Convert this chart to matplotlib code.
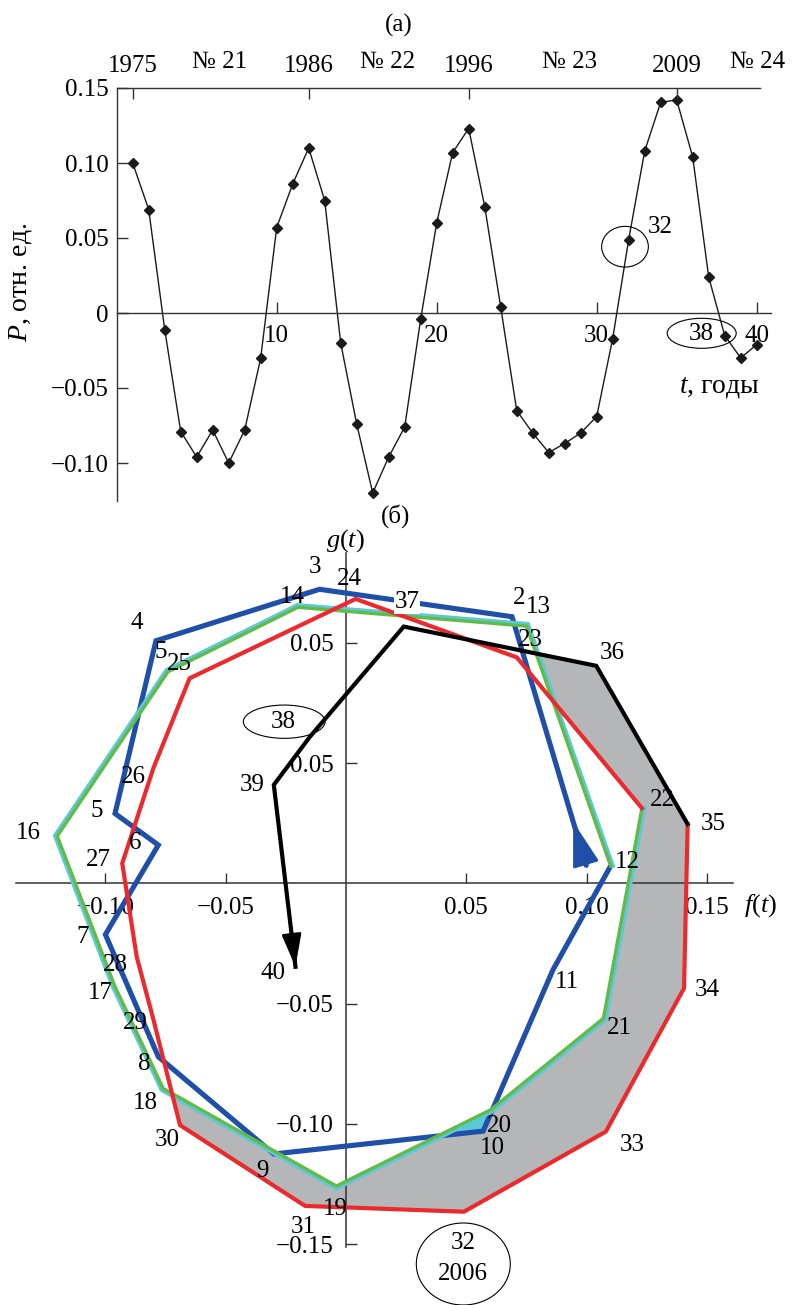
import numpy as np
import matplotlib
matplotlib.use("Agg")
import matplotlib.pyplot as plt
from matplotlib import transforms as mtransforms
from matplotlib.patches import Ellipse, Polygon

plt.rcParams['font.family'] = ['Liberation Serif', 'DejaVu Serif']
plt.rcParams['mathtext.fontset'] = 'custom'
plt.rcParams['mathtext.rm'] = 'Liberation Serif'
plt.rcParams['mathtext.it'] = 'Liberation Serif:italic'
plt.rcParams['axes.unicode_minus'] = True

# ---------------- data ----------------
t = np.arange(1, 41)
# P(t) of panel (a); it is also f(t) of panel (b)
P = np.array([0.100, 0.069, -0.011, -0.079, -0.096, -0.078, -0.100, -0.078, -0.030, 0.057,
              0.086, 0.110, 0.075, -0.020, -0.074, -0.120, -0.096, -0.076, -0.004, 0.060,
              0.107, 0.123, 0.071, 0.004, -0.065, -0.080, -0.093, -0.087, -0.080, -0.069,
              -0.017, 0.049, 0.108, 0.1405, 0.142, 0.104, 0.024, -0.015, -0.030, -0.021])
g = np.array([0.0069, 0.1108, 0.1222, 0.1008, 0.0290, 0.0159, -0.0213, -0.0721, -0.1125, -0.1030,
              -0.0360, 0.0072, 0.1069, 0.1147, 0.0879, 0.0196, -0.0429, -0.0852, -0.1258, -0.0942,
              -0.0561, 0.0312, 0.0939, 0.1182, 0.0852, 0.0480, 0.0083, -0.0305, -0.0568, -0.1005,
              -0.1341, -0.1365, -0.1032, -0.0436, 0.0246, 0.0904, 0.1067, 0.0609, 0.0409, -0.0347])

year_t = [1, 12, 22, 35]
year_labels = ['1975', '1986', '1996', '2009']
cycle_t = [6.45, 16.9, 28.3, 40.05]
cycle_labels = ['№ 21', '№ 22', '№ 23', '№ 24']
a_xticks = [10, 20, 30, 40]
a_yticks = [-0.10, -0.05, 0.0, 0.05, 0.10, 0.15]
a_yticklabels = ['−0.10', '−0.05', '0', '0.05', '0.10', '0.15']
b_fticks = [-0.10, -0.05, 0.05, 0.10, 0.15]
b_fticklabels = ['−0.10', '−0.05', '0.05', '0.10', '0.15']
b_gticks = [-0.15, -0.10, -0.05, 0.05, 0.10]
b_gticklabels = ['−0.15', '−0.10', '−0.05', '0.05', '0.05']

# trajectory pieces (first and last year index t)
blue_rng = (1, 12)
green_rng = (12, 22)
red_rng = (22, 35)
black_rng = (35, 40)

# point number labels of panel (b): text, reference pixel x, y
point_labels = [
    ('2', 519, 598), ('3', 315, 567), ('4', 137, 623), ('5', 161, 652), ('5', 97, 811),
    ('6', 135, 843), ('7', 83, 937), ('8', 144, 1064), ('9', 262, 1171), ('10', 492, 1148),
    ('11', 567, 982), ('12', 627, 862), ('13', 538, 607), ('14', 292, 597), ('16', 28, 833),
    ('17', 100, 993), ('18', 145, 1103), ('19', 335, 1209), ('20', 499, 1126), ('21', 619, 1028),
    ('22', 662, 800), ('23', 530, 640), ('24', 349, 579), ('25', 179, 664), ('26', 133, 777),
    ('27', 98, 860), ('28', 115, 965), ('29', 135, 1023), ('30', 167, 1140), ('31', 303, 1227),
    ('33', 632, 1145), ('34', 707, 990), ('35', 713, 824), ('36', 612, 653), ('39', 252, 785),
    ('40', 273, 973),
]

BLUE = '#1f4fa8'
GREEN = '#62bb46'
CYAN = '#5cc8d8'
RED = '#ec2a2e'
GREY = '#b4b6b8'
AXC = '#333333'
FS = 18

W, H = 792, 1305
fig = plt.figure(figsize=(W / 100, H / 100), dpi=100)
PX = mtransforms.Affine2D().scale(1 / W, -1 / H).translate(0, 1) + fig.transFigure


def ftext(x, y, s, **kw):
    kw.setdefault('fontsize', FS)
    kw.setdefault('ha', 'center')
    kw.setdefault('va', 'center')
    return fig.text(x, y, s, transform=PX, **kw)


# ---------------- panel (a) ----------------
ax1 = fig.add_axes([116.7 / W, 1 - 500.5 / H, 654.4 / W, 412.5 / H])
ax1.set_xlim(0, 40.9)
ax1.set_ylim(-0.125, 0.15)
ax1.patch.set_visible(False)
ax1.plot(t, P, '-', color='#1a1a1a', lw=1.0, zorder=3, clip_on=False)
ax1.plot(t, P, 'D', color='#1a1a1a', ms=4.6, zorder=4, clip_on=False)
ax1.spines['right'].set_visible(False)
ax1.spines['bottom'].set_position(('data', 0))
ax1.spines['top'].set_bounds(0, 40.2)
for s in ['left', 'top', 'bottom']:
    ax1.spines[s].set_color(AXC)
    ax1.spines[s].set_linewidth(1.0)
ax1.set_xticks(a_xticks)
ax1.set_xticklabels([str(v) for v in a_xticks])
ax1.set_yticks(a_yticks)
ax1.set_yticklabels(a_yticklabels)
ax1.tick_params(axis='x', direction='in', length=8, width=1, color=AXC, pad=9, labelsize=FS)
ax1.tick_params(axis='y', direction='in', length=8, width=1, color=AXC, pad=6, labelsize=FS)

axt = ax1.twiny()
axt.set_xlim(0, 40.9)
for s in axt.spines.values():
    s.set_visible(False)
axt.set_xticks(year_t)
axt.set_xticklabels(year_labels)
axt.tick_params(axis='x', direction='in', length=8, width=1, color=AXC, pad=8, labelsize=FS)
xtr = ax1.get_xaxis_transform()
for xv, lab in zip(cycle_t, cycle_labels):
    ax1.text(xv, (500.5 - 62) / 412.5, lab, transform=xtr, ha='center', va='center',
             fontsize=FS, clip_on=False)

ftext(399, 25, '(а)')
ftext(20, 282, '$P$, отн. ед.', rotation=90, fontsize=20)
ftext(720, 387, '$t$, годы', fontsize=20)
fig.add_artist(Ellipse((625, 246.7), 46.7, 40.7, transform=PX, fill=False, ec='black', lw=0.8))
ftext(660, 227, '32')
fig.add_artist(Ellipse((701.7, 333.3), 69, 30, transform=PX, fill=False, ec='black', lw=0.8))
ftext(701.7, 334, '38')

# ---------------- panel (b) ----------------
SC = 2406.0  # pixels per unit
OX, OY = 346.0, 883.3
ax2 = fig.add_axes([0, 0, 1, (H - 520) / H])
ax2.set_xlim(-OX / SC, (W - OX) / SC)
ax2.set_ylim(-(H - OY) / SC, (OY - 520) / SC)
ax2.patch.set_visible(False)
ax2.spines['right'].set_visible(False)
ax2.spines['top'].set_visible(False)
ax2.spines['left'].set_position(('data', 0))
ax2.spines['bottom'].set_position(('data', 0))
ax2.spines['left'].set_bounds(-0.1513, 0.1373)
ax2.spines['bottom'].set_bounds(-0.1371, 0.1607)
for s in ['left', 'bottom']:
    ax2.spines[s].set_color(AXC)
    ax2.spines[s].set_linewidth(1.1)
ax2.set_xticks(b_fticks)
ax2.set_xticklabels(b_fticklabels)
ax2.set_yticks(b_gticks)
ax2.set_yticklabels(b_gticklabels)
ax2.tick_params(axis='x', direction='in', length=7, width=1, color=AXC, pad=10, labelsize=FS)
ax2.tick_params(axis='y', direction='in', length=8, width=1, color=AXC, pad=9, labelsize=FS)


def pt(k):
    return np.array([P[k - 1], g[k - 1]])


def cross(a, b, c, d):
    r = b - a
    s = d - c
    den = r[0] * s[1] - r[1] * s[0]
    u = ((c - a)[0] * s[1] - (c - a)[1] * s[0]) / den
    return a + u * r


def piece(rng):
    return P[rng[0] - 1:rng[1]], g[rng[0] - 1:rng[1]]


# grey band between the cycle of points 12-22 and the outer path 30-37
X1 = cross(pt(29), pt(30), pt(18), pt(19))
X2 = cross(pt(36), pt(37), pt(12), pt(13))
X3 = cross(pt(12), pt(13), pt(22), pt(23))
band = [X1] + [pt(k) for k in range(30, 37)] + [X2, X3] + [pt(k) for k in range(22, 18, -1)]
ax2.add_patch(Polygon(band, closed=True, fc=GREY, ec='none', zorder=1))
C1 = cross(pt(9), pt(10), pt(19), pt(20))
C2 = cross(pt(10), pt(11), pt(20), pt(21))
ax2.add_patch(Polygon([C1, pt(10), C2, pt(20)], closed=True, fc=CYAN, ec='none', zorder=1.1))

bx, by = piece(blue_rng)
ax2.plot(bx, by, color=BLUE, lw=3.7, zorder=3, solid_joinstyle='miter', solid_capstyle='butt')
gx, gy = piece(green_rng)
cyan_tr = mtransforms.Affine2D().scale(1.008) + ax2.transData
ax2.plot(gx, gy, color=CYAN, lw=3.0, zorder=3.9, transform=cyan_tr, solid_joinstyle='miter')
ax2.plot(gx, gy, color=GREEN, lw=2.4, zorder=4, solid_joinstyle='miter')
rx, ry = piece(red_rng)
ax2.plot(rx, ry, color=RED, lw=3.0, zorder=5, solid_joinstyle='miter')
kx, ky = piece(black_rng)
ax2.plot(kx, ky, color='black', lw=3.0, zorder=6, solid_joinstyle='miter')

# arrows: blue start direction, black end
p1, p2 = pt(1), pt(2)
ax2.annotate('', xy=p1 + 0.18 * (p2 - p1), xytext=p1,
             arrowprops=dict(arrowstyle='-|>,head_length=1.4,head_width=0.42', color=BLUE,
                             lw=2.0, mutation_scale=20, shrinkA=0, shrinkB=0), zorder=3)
p39, p40 = pt(39), pt(40)
ax2.annotate('', xy=p40, xytext=p40 - 0.25 * (p40 - p39),
             arrowprops=dict(arrowstyle='-|>,head_length=1.0,head_width=0.3', color='black',
                             lw=2.0, mutation_scale=20, shrinkA=0, shrinkB=0), zorder=6)

for s, x, y in point_labels:
    ftext(x, y, s, zorder=8)
ftext(407, 602, '37', zorder=8, bbox=dict(fc='white', ec='none', pad=0.3))

ftext(396, 516, '(б)')
ftext(345, 541, '$g(t)$', fontsize=19)
ftext(761, 906, '$f(t)$', fontsize=19)

fig.add_artist(Ellipse((284.2, 721.7), 81.7, 33.3, transform=PX, fill=False, ec='black', lw=0.8))
ftext(283.3, 722, '38')
fig.add_artist(Ellipse((463.3, 1264), 94, 82, transform=PX, fill=False, ec='black', lw=0.8))
ftext(463.3, 1243, '32')
ftext(463.3, 1274, '2006')

fig.savefig('out.png', dpi=100)
